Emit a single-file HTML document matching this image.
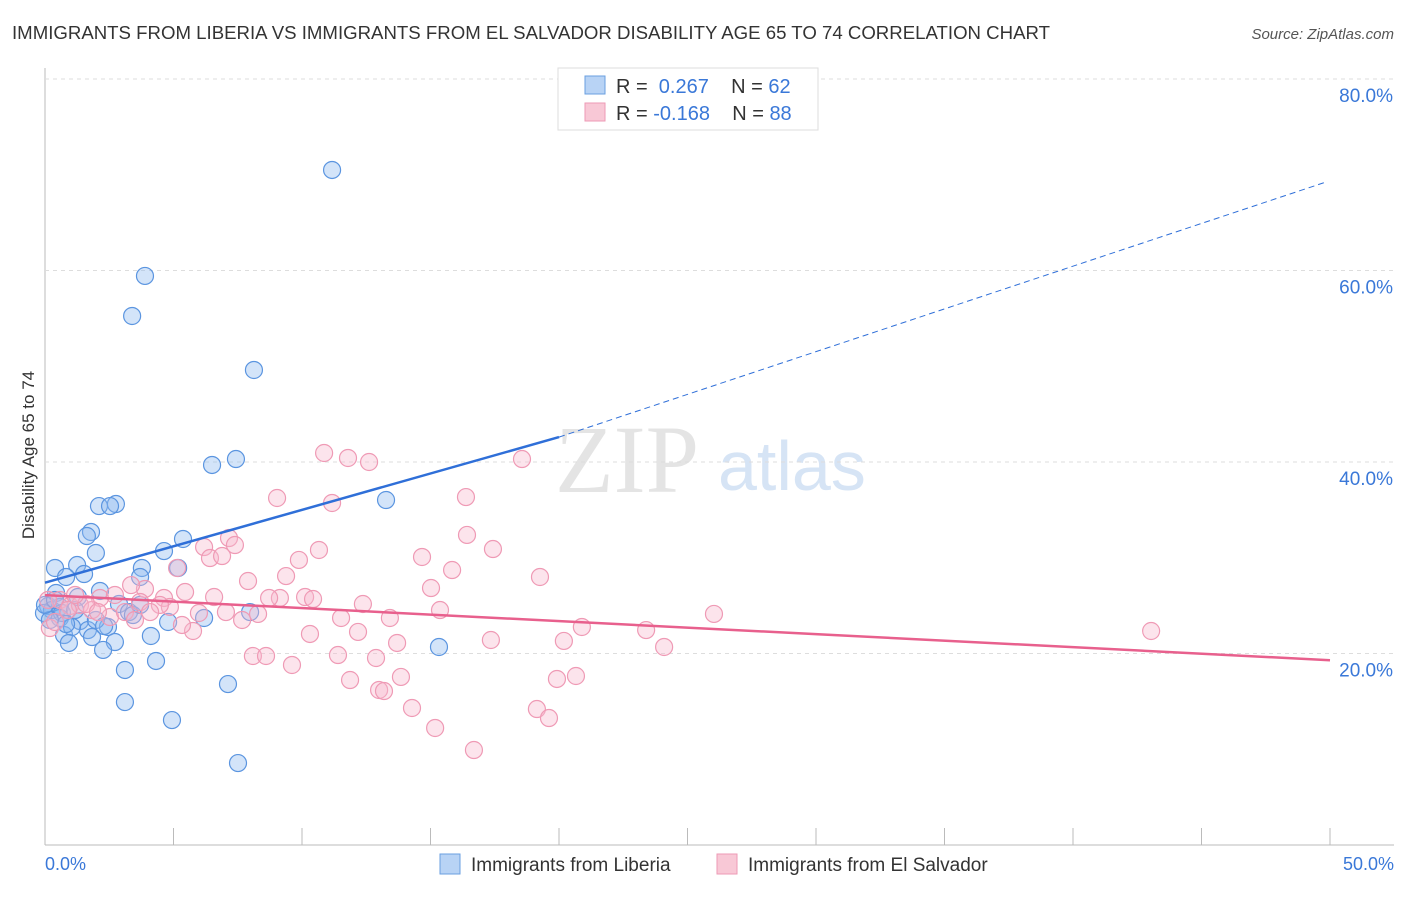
<!DOCTYPE html>
<html><head><meta charset="utf-8"><style>
body{margin:0;background:#fff;font-family:"Liberation Sans",sans-serif;}
#wrap{position:relative;width:1406px;height:892px;}
</style></head><body>
<div id="wrap">
<svg id="svg" width="1406" height="892" xmlns="http://www.w3.org/2000/svg">
<text x="12" y="39" font-size="18" fill="#333" textLength="1038" lengthAdjust="spacingAndGlyphs">IMMIGRANTS FROM LIBERIA VS IMMIGRANTS FROM EL SALVADOR DISABILITY AGE 65 TO 74 CORRELATION CHART</text>
<text x="1394" y="39" font-size="15" fill="#555" font-style="italic" text-anchor="end">Source: ZipAtlas.com</text>
<text x="34" y="455" font-size="17" fill="#333" text-anchor="middle" transform="rotate(-90 34 455)">Disability Age 65 to 74</text>
<text x="555" y="492" font-size="96" fill="#e4e4e4" font-family="Liberation Serif,serif">ZIP</text>
<text x="718" y="490" font-size="70" fill="#d6e4f5">atlas</text>
<g id="grid"></g><g id="pts"></g><g id="lines"></g>
<g>
<rect x="558" y="68" width="260" height="62" fill="#fff" stroke="#ddd"/>
<rect x="585" y="76" width="20" height="18" fill="#b8d3f5" stroke="#6a9fe0"/>
<rect x="585" y="103" width="20" height="18" fill="#f8c8d6" stroke="#ee9ab5"/>
<text x="616" y="93" font-size="20" fill="#333">R = <tspan fill="#3a78d8">&#160;0.267</tspan>&#160;&#160;&#160;&#160;N = <tspan fill="#3a78d8">62</tspan></text>
<text x="616" y="120" font-size="20" fill="#333">R = <tspan fill="#3a78d8">-0.168</tspan>&#160;&#160;&#160;&#160;N = <tspan fill="#3a78d8">88</tspan></text>
</g>
<g>
<rect x="440" y="854" width="20" height="20" fill="#b8d3f5" stroke="#6a9fe0"/>
<text x="471" y="871" font-size="19" fill="#333">Immigrants from Liberia</text>
<rect x="717" y="854" width="20" height="20" fill="#f8c8d6" stroke="#ee9ab5"/>
<text x="748" y="871" font-size="19" fill="#333">Immigrants from El Salvador</text>
</g>
<text x="45" y="870" font-size="18" fill="#3a78d8">0.0%</text>
<text x="1394" y="870" font-size="18" fill="#3a78d8" text-anchor="end">50.0%</text>
</svg>
</div>
<script>
const yTicks=[20,40,60,80];
const yTickLabels=["20.0%","40.0%","60.0%","80.0%"];
const xTicks=[0,5,10,15,20,25,30,35,40,45,50];
const liberiaPx=[[332,170],[145,276],[132,316],[254,370],[212,465],[236,459],[386,500],[99,506],[116,504],[110,506],[91,532],[87,536],[96,553],[164,551],[183,539],[55,568],[77,565],[84,574],[66,577],[142,568],[140,577],[178,568],[100,591],[78,597],[56,593],[119,604],[129,612],[133,615],[48,606],[52,610],[60,607],[44,613],[60,618],[80,621],[108,627],[88,630],[64,635],[72,627],[92,637],[115,642],[69,643],[103,650],[151,636],[168,622],[204,618],[250,612],[125,670],[156,661],[228,684],[125,702],[172,720],[238,763],[439,647],[62,613],[50,620],[75,610],[96,620],[66,624],[104,626],[140,605],[45,605],[55,600]];
const salvadorPx=[[324,453],[348,458],[369,462],[522,459],[277,498],[332,503],[466,497],[229,538],[235,545],[204,547],[210,558],[222,556],[299,560],[319,550],[422,557],[467,535],[493,549],[452,570],[540,577],[286,576],[248,581],[177,568],[145,589],[131,585],[185,592],[214,597],[164,598],[305,597],[313,599],[280,598],[269,598],[431,588],[363,604],[440,610],[390,618],[341,618],[170,607],[199,613],[226,612],[242,620],[258,614],[714,614],[1151,631],[582,627],[646,630],[564,641],[491,640],[664,647],[310,634],[358,632],[397,643],[193,631],[182,625],[253,656],[266,656],[338,655],[376,658],[292,665],[350,680],[401,677],[557,679],[576,676],[379,690],[384,691],[412,708],[537,709],[549,718],[435,728],[474,750],[60,600],[70,606],[80,605],[100,598],[115,595],[92,610],[110,617],[125,612],[140,602],[160,605],[150,612],[50,628],[55,622],[86,604],[135,620],[68,610],[48,600],[98,612],[75,595]];
const liberiaX=liberiaPx.map(p=>+((p[0]-45)/1285*50).toFixed(2));
const liberiaY=liberiaPx.map(p=>+((845-p[1])/9.575).toFixed(2));
const salvadorX=salvadorPx.map(p=>+((p[0]-45)/1285*50).toFixed(2));
const salvadorY=salvadorPx.map(p=>+((845-p[1])/9.575).toFixed(2));
const liberiaTrend=[[0,27.4],[20,42.6],[49.8,69.2]];
const salvadorTrend=[[0,26.1],[50,19.3]];
const NS="http://www.w3.org/2000/svg";
const X=v=>45+v/50*1285, Y=v=>845-v*9.575;
function mk(t,a,parent){const e=document.createElementNS(NS,t);for(const k in a)e.setAttribute(k,a[k]);parent.appendChild(e);return e;}
const grid=document.getElementById('grid');
let ax=mk('line',{x1:45,y1:68,x2:45,y2:845,stroke:'#bbb'},grid);


let bx=mk('line',{x1:45,y1:845,x2:1394,y2:845,stroke:'#bbb'},grid);


yTicks.forEach((t,i)=>{
 let g=mk('line',{x1:45,x2:1394,y1:Y(t),y2:Y(t),stroke:'#ddd','stroke-dasharray':'4,4'},grid);
 
 
 let l=mk('text',{x:1393,y:Y(t)+23,'font-size':19,fill:'#3a78d8','text-anchor':'end'},grid);
 l.textContent=yTickLabels[i];
 
 
});
xTicks.forEach(t=>{
 let k=mk('line',{x1:X(t),x2:X(t),y1:828,y2:845,stroke:'#bbb'},grid);
 
 
});
const pts=document.getElementById('pts');
liberiaX.forEach((x,i)=>{
 let c=mk('circle',{cx:X(x),cy:Y(liberiaY[i]),r:8.5,fill:'rgba(140,185,240,0.38)',stroke:'#5b95e0','stroke-width':1.2},pts);
 
 
});
salvadorX.forEach((x,i)=>{
 let c=mk('circle',{cx:X(x),cy:Y(salvadorY[i]),r:8.5,fill:'rgba(248,185,205,0.38)',stroke:'#ef9ab5','stroke-width':1.2},pts);
 
 
});
const lines=document.getElementById('lines');
let b1=mk('line',{x1:X(liberiaTrend[0][0]),y1:Y(liberiaTrend[0][1]),x2:X(liberiaTrend[1][0]),y2:Y(liberiaTrend[1][1]),stroke:'#2f6fd8','stroke-width':2.5},lines);


let b2=mk('line',{x1:X(liberiaTrend[1][0]),y1:Y(liberiaTrend[1][1]),x2:X(liberiaTrend[2][0]),y2:Y(liberiaTrend[2][1]),stroke:'#2f6fd8','stroke-width':1,'stroke-dasharray':'6,4'},lines);


let p1=mk('line',{x1:X(salvadorTrend[0][0]),y1:Y(salvadorTrend[0][1]),x2:X(salvadorTrend[1][0]),y2:Y(salvadorTrend[1][1]),stroke:'#e8608d','stroke-width':2.5},lines);


</script>
</body></html>
